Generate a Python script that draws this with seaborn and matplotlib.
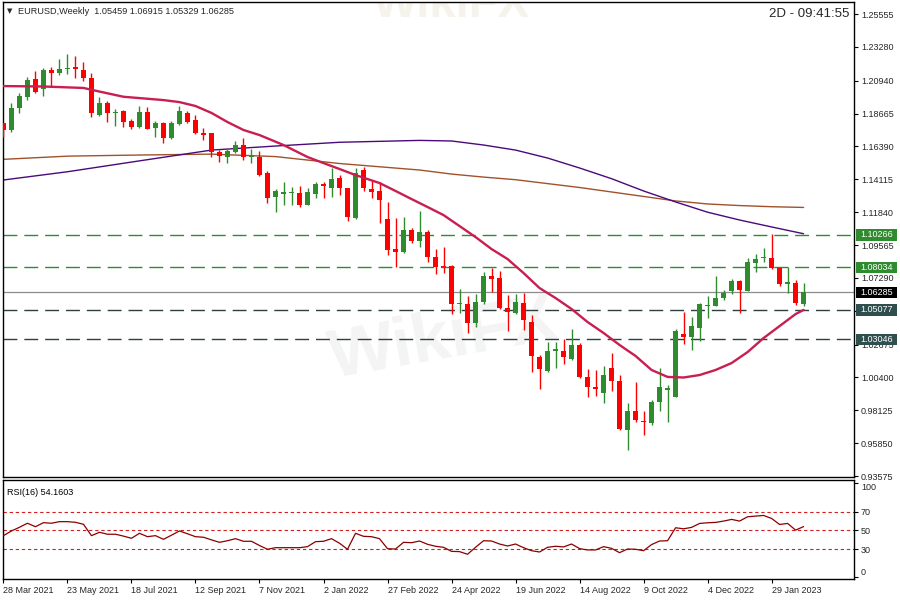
import matplotlib
matplotlib.use("Agg")
import matplotlib.pyplot as plt
import matplotlib.transforms as mtransforms
from matplotlib.patches import Rectangle
import seaborn as sns

# EURUSD weekly candles, index 0 = week of 28 Mar 2021
opens = [1.1799, 1.1753, 1.1903, 1.1979, 1.2104, 1.2035, 1.2168, 1.2145, 1.2173, 1.2192,
         1.2168, 1.2111, 1.1857, 1.1942, 1.1868, 1.1884, 1.1815, 1.1771, 1.1877, 1.1764,
         1.1803, 1.1696, 1.1794, 1.1872, 1.1822, 1.1730, 1.1730, 1.1602, 1.1568, 1.1602,
         1.1649, 1.1566, 1.1564, 1.1457, 1.1291, 1.1314, 1.1314, 1.1319, 1.1236, 1.1310,
         1.1379, 1.1353, 1.1418, 1.1349, 1.1142, 1.1476, 1.1345, 1.1331, 1.1137, 1.0931,
         1.0910, 1.1061, 1.0987, 1.1045, 1.0876, 1.0812, 1.0814, 1.0547, 1.0549, 1.0415,
         1.0565, 1.0743, 1.0729, 1.0519, 1.0489, 1.0558, 1.0426, 1.0184, 1.0087, 1.0223,
         1.0225, 1.0170, 1.0265, 1.0046, 0.9977, 0.9935, 1.0108, 1.0016, 0.9677, 0.9808,
         0.9739, 0.9727, 0.9872, 0.9954, 0.9907, 1.0341, 1.0323, 1.0381, 1.0535, 1.0535,
         1.0588, 1.0639, 1.0708, 1.0639, 1.0834, 1.0869, 1.0865, 1.0796, 1.0685, 1.0692,
         1.05459]
highs = [1.1803, 1.1937, 1.2007, 1.2118, 1.2163, 1.2180, 1.2191, 1.2242, 1.2279, 1.2265,
         1.2225, 1.2149, 1.1979, 1.1953, 1.1898, 1.1891, 1.1831, 1.1919, 1.1914, 1.1815,
         1.1810, 1.1812, 1.1919, 1.1886, 1.1857, 1.1764, 1.1734, 1.1614, 1.1630, 1.1679,
         1.1695, 1.1619, 1.1609, 1.1469, 1.1343, 1.1395, 1.1360, 1.1365, 1.1349, 1.1395,
         1.1395, 1.1488, 1.1441, 1.1353, 1.1492, 1.1499, 1.1400, 1.1395, 1.1256, 1.1142,
         1.1148, 1.1073, 1.1194, 1.1061, 1.0930, 1.0943, 1.0816, 1.0651, 1.0604, 1.0616,
         1.0772, 1.0796, 1.0779, 1.0611, 1.0616, 1.0623, 1.0472, 1.0196, 1.0288, 1.0288,
         1.0305, 1.0374, 1.0277, 1.0099, 1.0092, 1.0120, 1.0207, 1.0057, 0.9861, 1.0011,
         0.9810, 0.9884, 1.0104, 0.9989, 1.0376, 1.0491, 1.0456, 1.0558, 1.0604, 1.0743,
         1.0646, 1.0724, 1.0715, 1.0869, 1.0895, 1.0934, 1.1033, 1.0807, 1.0807, 1.0715,
         1.06915]
lows = [1.1707, 1.1741, 1.1872, 1.1960, 1.2010, 1.1990, 1.2053, 1.2133, 1.2138, 1.2111,
        1.2094, 1.1845, 1.1850, 1.1810, 1.1780, 1.1776, 1.1757, 1.1764, 1.1757, 1.1707,
        1.1665, 1.1691, 1.1787, 1.1799, 1.1725, 1.1684, 1.1568, 1.1533, 1.1526, 1.1591,
        1.1545, 1.1522, 1.1434, 1.1250, 1.1187, 1.1234, 1.1232, 1.1222, 1.1234, 1.1280,
        1.1280, 1.1287, 1.1303, 1.1125, 1.1137, 1.1333, 1.1280, 1.1111, 1.0888, 1.0807,
        1.0903, 1.0969, 1.0945, 1.0841, 1.0756, 1.0765, 1.0478, 1.0489, 1.0350, 1.0392,
        1.0547, 1.0634, 1.0512, 1.0364, 1.0478, 1.0369, 1.0076, 0.9958, 1.0080, 1.0104,
        1.0132, 1.0161, 1.0035, 0.9907, 0.9912, 0.9865, 0.9949, 0.9677, 0.9538, 0.9734,
        0.9642, 0.9711, 0.9810, 0.9734, 0.9905, 1.0272, 1.0230, 1.0295, 1.0450, 1.0533,
        1.0576, 1.0618, 1.0489, 1.0637, 1.0772, 1.0841, 1.0793, 1.0673, 1.0623, 1.0542,
        1.05329]
closes = [1.1753, 1.1903, 1.1988, 1.2099, 1.2018, 1.2168, 1.2145, 1.2173, 1.2182, 1.2173,
          1.2111, 1.1868, 1.1942, 1.1868, 1.1877, 1.1810, 1.1771, 1.1877, 1.1760, 1.1799,
          1.1700, 1.1803, 1.1884, 1.1810, 1.1730, 1.1716, 1.1600, 1.1575, 1.1607, 1.1649,
          1.1564, 1.1575, 1.1441, 1.1284, 1.1333, 1.1321, 1.1326, 1.1234, 1.1326, 1.1379,
          1.1365, 1.1411, 1.1349, 1.1153, 1.1453, 1.1349, 1.1326, 1.1268, 1.0922, 1.0910,
          1.1061, 1.0987, 1.1045, 1.0876, 1.0807, 1.0803, 1.0547, 1.0558, 1.0415, 1.0560,
          1.0743, 1.0724, 1.0523, 1.0496, 1.0560, 1.0438, 1.0191, 1.0097, 1.0223, 1.0237,
          1.0184, 1.0265, 1.0046, 0.9972, 0.9959, 1.0057, 1.0018, 0.9683, 0.9808, 0.9746,
          0.9730, 0.9872, 0.9977, 0.9966, 1.0362, 1.0323, 1.0396, 1.0549, 1.0542, 1.0588,
          1.0627, 1.0708, 1.0646, 1.0837, 1.0860, 1.0876, 1.0796, 1.0685, 1.0701, 1.0554,
          1.06285]

# moving averages (vertices read at candle indices)
ma_fast_idx = [0, 5, 10, 12, 15, 20, 22, 24, 26, 28, 30, 32, 35, 38, 40, 42, 44, 47, 49, 51,
               53, 55, 57, 59, 61, 63, 65, 67, 69, 71, 73, 75, 77, 79, 81, 83, 85, 87, 89, 91,
               93, 95, 97, 99, 100]
ma_fast_val = [1.2057, 1.2054, 1.2044, 1.2019, 1.1983, 1.1960, 1.1946, 1.1919, 1.1871, 1.1808,
               1.1753, 1.1718, 1.1649, 1.1566, 1.1524, 1.1483, 1.1441, 1.1386, 1.1331, 1.1275,
               1.1220, 1.1164, 1.1088, 1.1012, 1.0929, 1.0860, 1.0763, 1.0659, 1.0590, 1.0514,
               1.0424, 1.0348, 1.0265, 1.0189, 1.0092, 1.0044, 1.0040, 1.0057, 1.0092, 1.0140,
               1.0216, 1.0313, 1.0396, 1.0479, 1.05077]
ma_slow_idx = [0, 8, 16, 26, 34, 42, 52, 56, 60, 64, 68, 72, 76, 80, 84, 88, 92, 96, 100]
ma_mid_val = [1.1407, 1.1464, 1.1531, 1.1614, 1.1642, 1.1668, 1.1681, 1.1677, 1.1649, 1.1614,
              1.1559, 1.1490, 1.1416, 1.1331, 1.1255, 1.1184, 1.1130, 1.1082, 1.1035]
ma_long_val = [1.1550, 1.1572, 1.1579, 1.1586, 1.1569, 1.1521, 1.1476, 1.1448, 1.1427, 1.1409,
               1.1382, 1.1355, 1.1324, 1.1293, 1.1262, 1.1241, 1.1230, 1.1222, 1.1217]

# RSI(16)
rsi_vals = [44.5, 49.5, 53.4, 57.7, 54.0, 58.3, 57.7, 59.4, 59.4, 58.7,
            56.6, 44.5, 48.1, 46.0, 46.0, 44.0, 41.7, 47.0, 43.4, 44.5,
            40.6, 45.0, 49.5, 46.5, 43.4, 42.8, 40.0, 37.4, 39.1, 41.3,
            38.5, 38.5, 34.0, 30.0, 31.7, 31.7, 31.7, 31.7, 32.8, 38.1,
            38.5, 41.3, 36.4, 30.0, 47.0, 43.8, 43.4, 41.3, 30.6, 30.3,
            37.4, 37.0, 38.8, 35.3, 33.2, 32.1, 27.8, 27.5, 24.7, 32.1,
            39.1, 38.8, 35.6, 33.5, 35.6, 31.7, 28.5, 27.1, 32.1, 33.2,
            32.5, 35.6, 30.7, 29.3, 29.3, 32.8, 31.0, 26.4, 30.3, 30.0,
            28.5, 35.0, 38.8, 39.1, 52.9, 51.8, 53.3, 57.5, 58.2, 58.6,
            60.0, 61.8, 60.0, 64.6, 65.3, 66.0, 62.8, 56.4, 57.5, 50.4,
            54.16]
rsi_levels = [70, 50, 30]

date_ticks = [0, 8, 16, 24, 32, 40, 48, 56, 64, 72, 80, 88, 96]
date_labels = ['28 Mar 2021', '23 May 2021', '18 Jul 2021', '12 Sep 2021', '7 Nov 2021',
               '2 Jan 2022', '27 Feb 2022', '24 Apr 2022', '19 Jun 2022', '14 Aug 2022',
               '9 Oct 2022', '4 Dec 2022', '29 Jan 2023']
price_ticks = [1.25555, 1.23280, 1.20940, 1.18665, 1.16390, 1.14115, 1.11840, 1.09565,
               1.07290, 1.05015, 1.02675, 1.00400, 0.98125, 0.95850, 0.93575]
hidden_tick = 1.05015   # covered by the 1.05077 box in the original
levels_green = [1.10266, 1.08034]
levels_dark = [1.05077, 1.03046]
last_price = 1.06285

# style
sns.set_theme(style="white")
plt.rcParams['font.family'] = ['Liberation Sans', 'DejaVu Sans']

fig = plt.figure(figsize=(9, 6), dpi=100)
ax = fig.add_axes([0.0033, 0.2042, 0.9456, 0.7925])
ax_rsi = fig.add_axes([0.0033, 0.0355, 0.9456, 0.1637])

bull_col = '#2e8b2e'
bear_col = '#ff0000'

# faint watermark
ax.text(55, 1.030, 'WikiFX', fontsize=50, fontweight='bold', color='#f4f4f4',
        rotation=10, ha='center', va='center', zorder=0)
ax.text(56, 1.262, 'WikiFX', fontsize=34, fontweight='bold', color='#f6f3ec',
        ha='center', va='center', zorder=0, clip_on=True)

# candles
xs = list(range(len(opens)))
cols = [bull_col if c >= o else bear_col for o, c in zip(opens, closes)]
bottoms, heights = [], []
for o, c in zip(opens, closes):
    h = abs(c - o)
    if h < 0.0009:
        bottoms.append((o + c) / 2 - 0.00045)
        heights.append(0.0009)
    else:
        bottoms.append(min(o, c))
        heights.append(h)
ax.vlines(xs, lows, highs, colors=cols, lw=1, zorder=3)
ax.bar(xs, heights, bottom=bottoms, width=0.62, color=cols, lw=0, zorder=4)

# moving averages
sns.lineplot(x=ma_slow_idx, y=ma_long_val, ax=ax, color='#a0522d', lw=1, sort=False, zorder=2)
sns.lineplot(x=ma_slow_idx, y=ma_mid_val, ax=ax, color='#4b0a7a', lw=1, sort=False, zorder=2)
sns.lineplot(x=ma_fast_idx, y=ma_fast_val, ax=ax, color='#c81e50', lw=1.7, sort=False, zorder=5)

# horizontal levels
for lv in levels_green:
    ax.axhline(lv, color='#2e8b2e', lw=1, dashes=(10, 5), zorder=1)
for lv in levels_dark:
    ax.axhline(lv, color='#2f3f3f', lw=1, dashes=(10, 5), zorder=1)
ax.axhline(last_price, color='#8c8c8c', lw=0.9, zorder=1)

ax.set_xlim(-0.06, 106.3)
ax.set_ylim(0.9348, 1.2639)
ax.set_xticks([])
ax.set_yticks(price_ticks)
ax.set_yticklabels(['' if v == hidden_tick else f"{v:.5f}" for v in price_ticks])
ax.yaxis.tick_right()
ax.tick_params(axis='y', right=True, left=False, labelright=True, labelleft=False,
               length=3, width=0.8, direction='out', color='black', pad=2, labelsize=6.5)
ax.set_xlabel('')
ax.set_ylabel('')

# price boxes on the right scale
trans = mtransforms.blended_transform_factory(ax.transAxes, ax.transData)
box_specs = [(levels_green[0], '#2e8b2e'), (levels_green[1], '#2e8b2e'),
             (last_price, '#000000'),
             (levels_dark[0], '#2f4f4f'), (levels_dark[1], '#2f4f4f')]
box_h = 0.0078
for val, face in box_specs:
    ax.add_patch(Rectangle((1.0024, val - box_h / 2), 0.0485, box_h, transform=trans,
                           facecolor=face, edgecolor='none', clip_on=False, zorder=9))
    ax.text(1.0071, val, f"{val:.5f}", transform=trans, ha='left', va='center',
            fontsize=6.5, color='white', zorder=10, clip_on=False)

# RSI panel
sns.lineplot(x=xs, y=rsi_vals, ax=ax_rsi, color='#8b0000', lw=0.9, sort=False, zorder=3)
for lv in rsi_levels:
    ax_rsi.axhline(lv, color='#d02020', lw=0.8, dashes=(3, 2.5), zorder=2)
ax_rsi.set_xlim(-0.06, 106.3)
ax_rsi.set_ylim(-1.3, 103.2)
ax_rsi.set_yticks([100, 70, 50, 30, 0])
ax_rsi.set_yticklabels(['100', '70', '50', '30', '0'])
ax_rsi.yaxis.tick_right()
ax_rsi.tick_params(axis='y', right=True, left=False, labelright=True, labelleft=False,
                   length=3, width=0.8, direction='out', color='black', pad=2, labelsize=6.5)
ylabs = ax_rsi.get_yticklabels()
ylabs[0].set_va('top')
ylabs[-1].set_va('bottom')
ax_rsi.set_xticks(date_ticks)
ax_rsi.set_xticklabels(date_labels, ha='left')
ax_rsi.tick_params(axis='x', bottom=True, length=3, width=0.8, direction='out',
                   color='black', pad=2, labelsize=6.5)
ax_rsi.set_xlabel('')
ax_rsi.set_ylabel('')
ax_rsi.text(0.005, 0.88, 'RSI(16) 54.1603', transform=ax_rsi.transAxes,
            fontsize=6.5, ha='left', va='center', color='black')

for a in (ax, ax_rsi):
    for sp in a.spines.values():
        sp.set_color('black')
        sp.set_linewidth(1)
    a.grid(False)

# header texts
fig.text(7 / 900, 1 - 11 / 600, '\u25bc', fontsize=5, ha='left', va='center',
         family=['DejaVu Sans'])
fig.text(18 / 900, 1 - 11 / 600, 'EURUSD,Weekly  1.05459 1.06915 1.05329 1.06285',
         fontsize=6.6, ha='left', va='center')
fig.text(849 / 900, 1 - 14 / 600, '2D - 09:41:55', fontsize=9.5, ha='right', va='center')

fig.savefig('out.png', dpi=100, facecolor='white')
